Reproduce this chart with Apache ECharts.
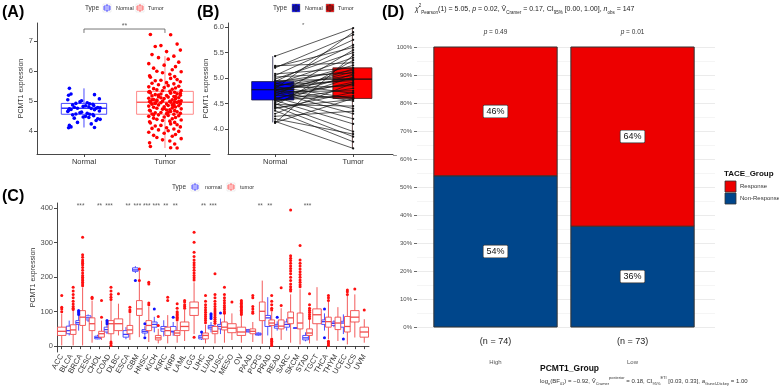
<!DOCTYPE html>
<html><head><meta charset="utf-8">
<script src="https://cdn.jsdelivr.net/npm/echarts@6/dist/echarts.min.js"></script>
<style>html,body{margin:0;padding:0;background:#fff}#c{width:779px;height:387px}</style>
</head><body><div id="c"></div>
<script>
const FONT = 'Liberation Sans, Arial, Helvetica, sans-serif';

// ---------- Panel A / B data ----------
const groupsAB = ['Normal', 'Tumor'];
const normalExpr = [5.43,5.24,5.22,5.2,5.08,5.05,5.02,4.98,4.95,4.93,4.92,4.9,4.88,4.86,4.85,4.83,4.82,4.8,4.79,4.78,4.77,4.77,4.76,4.75,4.73,4.72,4.7,4.68,4.66,4.64,4.62,4.6,4.58,4.57,4.56,4.55,4.52,4.5,4.48,4.46,4.44,4.42,4.4,4.36,4.3,4.25,4.2,4.15,4.13,4.12];
const tumorExpr = [7.22,7.21,6.9,6.85,6.82,6.7,6.65,6.55,6.5,6.45,6.4,6.3,6.25,6.2,6.15,6.1,6.05,6.0,5.98,5.95,5.9,5.85,5.82,5.8,5.76,5.72,5.7,5.68,5.65,5.62,5.6,5.58,5.55,5.52,5.5,5.48,5.46,5.44,5.42,5.4,5.38,5.36,5.35,5.33,5.32,5.3,5.28,5.27,5.25,5.24,5.22,5.2,5.19,5.18,5.16,5.15,5.14,5.12,5.1,5.09,5.08,5.06,5.05,5.04,5.02,5.01,5.0,4.99,4.98,4.97,4.97,4.96,4.95,4.94,4.92,4.91,4.9,4.89,4.88,4.86,4.85,4.84,4.82,4.81,4.8,4.78,4.77,4.75,4.74,4.72,4.7,4.69,4.68,4.66,4.65,4.63,4.62,4.6,4.59,4.58,4.57,4.55,4.53,4.52,4.5,4.48,4.46,4.44,4.42,4.4,4.38,4.36,4.34,4.32,4.3,4.28,4.25,4.22,4.2,4.18,4.15,4.12,4.1,4.08,4.05,4.02,4.0,3.97,3.94,3.9,3.87,3.84,3.8,3.76,3.72,3.68,3.62,3.58,3.5,3.46,3.45,5.12,4.93,5.27,4.71,5.05,4.84,5.21,4.63,4.99,5.31,4.76,5.16,4.55,4.88,5.02];
const jitterA = [-0.18,0.07,0.15,-0.05,-0.12,0.19,0.02,-0.16,0.11,-0.08,0.04,0.17,-0.2,-0.01,0.13,-0.14,0.09,-0.1,0.2,-0.03,0.06,-0.19,0.12];
const normalBoxA = [4.13, 4.57, 4.77, 4.93, 5.43];
const tumorBoxA = [3.45, 4.57, 4.97, 5.33, 6.5];
const sigA = '**';
const yTicksA = [4, 5, 6, 7];

const tumorPaired = [5.98,5.3,5.6,5.85,5.2,5.75,5.1,5.5,4.98,5.65,5.15,4.7,5.4,4.95,5.05,4.6,5.25,4.85,5.9,4.55,4.98,5.0,4.4,5.12,4.75,4.3,5.18,4.88,4.62,5.55,4.2,4.92,5.08,4.65,4.1,4.8,5.02,3.95,4.45,5.35,3.85,4.58,4.72,3.75,4.9,4.35,3.9,3.62,4.6,5.45];
const normalBoxB = [4.13, 4.57, 4.77, 4.93, 5.43];
const tumorBoxB = [3.62, 4.6, 4.98, 5.2, 5.98];
const sigB = '*';
const yTicksB = [4.0, 4.5, 5.0, 5.5, 6.0];

// ---------- Panel C data ----------
const cancerTypes = ['ACC','BLCA','BRCA','CESC','CHOL','COAD','DLBC','ESCA','GBM','HNSC','KICH','KIRC','KIRP','LAML','LGG','LIHC','LUAD','LUSC','MESO','OV','PAAD','PCPG','PRAD','READ','SARC','SKCM','STAD','TGCT','THCA','THYM','UCEC','UCS','UVM'];
const tumorStats = [[2,31,43,55,94],[2,34,47,62,103],[2,60,84,103,170],[10,45,65,82,132],[18,26,36,43,74],[15,36,65,74,132],[31,45,65,79,123],[18,36,47,60,95],[26,89,108,132,219],[12,45,60,74,115],[8,18,24,31,50],[8,31,45,55,90],[10,31,38,45,70],[15,45,57,70,105],[35,89,111,128,185],[8,21,31,38,62],[8,36,43,57,88],[10,47,55,70,102],[18,39,52,65,95],[10,31,41,55,90],[12,36,43,50,70],[7,74,101,128,190],[25,60,67,76,100],[18,50,58,76,110],[10,65,82,99,150],[5,50,67,96,165],[8,31,38,50,78],[16,65,91,108,171],[20,55,71,84,128],[15,48,67,84,113],[5,41,57,86,150],[25,70,84,103,150],[10,26,41,55,78]];
const normalStats = [null,[31,36,45,58,74],[45,63,68,74,90],[70,76,82,88,92],[20,21,25,29,33],[35,41,48,55,62],null,[20,26,34,45,55],[212,217,221,227,232],[30,38,43,48,58],[40,55,63,70,85],[28,43,50,57,75],[30,41,43,57,70],null,null,[18,21,26,31,38],[40,50,55,60,70],[35,50,57,63,80],null,null,[40,41,44,48,50],[30,32,35,38,40],[31,57,82,89,142],[45,52,58,63,72],[45,55,63,70,80],[53,53,53,53,53],[14,18,24,31,40],null,[45,63,71,76,95],[55,60,66,70,75],[35,55,67,72,92],null,null];
const tumorOutliers = [[147,113,108,100],[171,160,150,140,130,122,115,110,106],[316,265,258,250,245,240,235,228,220,212,205,200,195,190,185,180,175],[142,138],[132,84],[171,160,150,142,135,12,8,2],[152],[113,105,100],[224,190],[185,180,125,120],[86,60],[142,132],[123,110,100,96,92,88,84,80,76],[132,128,120,115,110],[330,301,272,260,250,242,235,228,220,212,205,198,192,26],[147,130,120,112,105,98,92,86,80,74,68],[210,150,140,130,122,115,108,102,96,90,84,78,72,66],[171,150,140,132,125,118,112,106,100,95],[128],[132,128,124,120,116,112,108,104,100,96,92],[147,140,115,108,100,95],[],[147,130,120,110,105,21,18,14,10,6,2],[169,118],[395,262,255,248,240,232,225,218,210,200,190,180,172,165,160],[292,250,240,232,224,216,208,200,192,185,178,172],[152,120,110,104,98,92,86,80],[],[147,140,132,14,10,6,2],[],[163,158,150],[166],[105]];
const normalOutliers = [[],[],[103,100,96,92],[],[],[74,70,65],[],[],[190],[65,24],[108],[],[84],[],[],[41],[94,90,85,80],[96],[],[],[],[],[],[84],[],[],[],[],[108,24],[],[21],[],[]];
const starsC = ['','','***','','**','***','','**','***','***','***','**','**','','','**','***','','','','','**','**','','','','***','','','','','',''];
const yTicksC = [0, 100, 200, 300, 400];

// ---------- Panel D data ----------
const peGroups = ['High', 'Low'];
const nCounts = [74, 73];
const responsePct = [46, 64];
const nonResponsePct = [54, 36];
const pLabelsD = ['0.49', '0.01'];

// ---------- helpers ----------
function boxRenderer(halfW, stroke, fill, medColor, lw) {
  return function (params, api) {
    const x = api.value(0);
    const c = [1,2,3,4,5].map(i => api.coord([x, api.value(i)]));
    const hw = api.size([halfW, 0])[0];
    const cx = c[0][0];
    return {type: 'group', children: [
      {type: 'line', shape: {x1: cx, y1: c[0][1], x2: cx, y2: c[1][1]}, style: {stroke: stroke, lineWidth: lw}},
      {type: 'line', shape: {x1: cx, y1: c[3][1], x2: cx, y2: c[4][1]}, style: {stroke: stroke, lineWidth: lw}},
      {type: 'rect', shape: {x: cx - hw, y: c[3][1], width: 2 * hw, height: c[1][1] - c[3][1]}, style: {fill: fill, stroke: stroke, lineWidth: lw}},
      {type: 'line', shape: {x1: cx - hw, y1: c[2][1], x2: cx + hw, y2: c[2][1]}, style: {stroke: medColor, lineWidth: lw * 1.5}}
    ]};
  };
}
function boxRendererC(side, stroke) {
  return function (params, api) {
    const ci = api.value(0);
    const paired = api.value(6);
    const bw = api.size([1, 0])[0];
    const off = paired ? side * bw * 0.21 : 0;
    const hw = paired ? bw * 0.3 : bw * 0.45;
    const c = [1,2,3,4,5].map(i => api.coord([ci, api.value(i)]));
    const cx = c[0][0] + off;
    const lw = 0.9;
    return {type: 'group', children: [
      {type: 'line', shape: {x1: cx, y1: c[0][1], x2: cx, y2: c[1][1]}, style: {stroke: stroke, lineWidth: lw}},
      {type: 'line', shape: {x1: cx, y1: c[3][1], x2: cx, y2: c[4][1]}, style: {stroke: stroke, lineWidth: lw}},
      {type: 'rect', shape: {x: cx - hw, y: c[3][1], width: 2 * hw, height: Math.max(c[1][1] - c[3][1], 0.5)}, style: {fill: '#fff', stroke: stroke, lineWidth: lw}},
      {type: 'line', shape: {x1: cx - hw, y1: c[2][1], x2: cx + hw, y2: c[2][1]}, style: {stroke: stroke, lineWidth: 1.3}}
    ]};
  };
}
function outlierRendererC(side, color) {
  return function (params, api) {
    const ci = api.value(0);
    const paired = api.value(2);
    const bw = api.size([1, 0])[0];
    const off = paired ? side * bw * 0.21 : 0;
    const p = api.coord([ci, api.value(1)]);
    return {type: 'circle', shape: {cx: p[0] + off, cy: p[1], r: 1.5}, style: {fill: color}};
  };
}
function legendGlyph(x, y, stroke, fill) {
  const open = fill === 'none';
  return {type: 'group', x: x, y: y, children: [
    {type: 'rect', shape: {x: 0, y: 0, width: 8, height: 8}, style: {fill: open ? '#fff' : fill, stroke: open ? '#ddd' : '#888', lineWidth: 0.5}},
    {type: 'line', shape: {x1: 4, y1: 0, x2: 4, y2: 8}, style: {stroke: open ? stroke : '#222', lineWidth: 0.8}},
    {type: 'rect', shape: {x: 1, y: 2, width: 6, height: 4}, style: {fill: open ? '#fff' : fill, stroke: open ? stroke : '#222', lineWidth: 0.8}},
    {type: 'line', shape: {x1: 1, y1: 4, x2: 7, y2: 4}, style: {stroke: open ? stroke : '#222', lineWidth: 0.8}}
  ]};
}
function txt(x, y, text, size, opts) {
  return {type: 'text', x: x, y: y, style: Object.assign({text: text, fontSize: size, fontFamily: FONT, fill: '#222', verticalAlign: 'middle'}, opts || {})};
}

const axisLineStyle = {show: true, lineStyle: {color: '#333', width: 0.9}};
const axisTickStyle = {show: true, length: 3, lineStyle: {color: '#333', width: 0.9}};
const labelStyle = {fontSize: 7.5, color: '#4d4d4d', fontFamily: FONT};

// ---------- build series data ----------
const pointsNormalA = normalExpr.map((v, i) => [1 + jitterA[(i * 7) % jitterA.length], v]);
const pointsTumorA = tumorExpr.map((v, i) => [2 + jitterA[i % jitterA.length], v]);
const pairsB = normalExpr.map((v, i) => [v, tumorPaired[i]]);
const tumorBoxDataC = tumorStats.map((s, i) => [i].concat(s, [normalStats[i] ? 1 : 0]));
const normalBoxDataC = [];
normalStats.forEach((s, i) => { if (s) normalBoxDataC.push([i].concat(s, [1])); });
const tumorOutC = [], normalOutC = [];
tumorOutliers.forEach((arr, i) => arr.forEach(v => tumorOutC.push([i, v, normalStats[i] ? 1 : 0])));
normalOutliers.forEach((arr, i) => arr.forEach(v => normalOutC.push([i, v, 1])));
const starsDataC = [];
starsC.forEach((s, i) => { if (s) starsDataC.push({value: [i, 407], label: {formatter: s}}); });
const nonRespData = peGroups.map((g, i) => [i + 1, 0, nonResponsePct[i] / 100, nonResponsePct[i]]);
const respData = peGroups.map((g, i) => [i + 1, nonResponsePct[i] / 100, 1, responsePct[i], i]);

function barRendererD(color, withP) {
  return function (params, api) {
    const x = api.value(0);
    const p0 = api.coord([x - 0.45, api.value(1)]);
    const p1 = api.coord([x + 0.45, api.value(2)]);
    const mid = api.coord([x, (api.value(1) + api.value(2)) / 2]);
    const ch = [
      {type: 'rect', shape: {x: p0[0], y: p1[1], width: p1[0] - p0[0], height: p0[1] - p1[1]}, style: {fill: color, stroke: '#333', lineWidth: 1}},
      {type: 'text', style: {text: api.value(3) + '%', x: mid[0], y: mid[1], align: 'center', verticalAlign: 'middle', fontSize: 9, fontFamily: FONT, fill: '#111', backgroundColor: '#fff', borderColor: '#333', borderWidth: 0.7, borderRadius: 1, padding: [2, 3, 1, 3]}}
    ];
    if (withP) {
      ch.push({type: 'text', style: {rich: {i: {fontStyle: 'italic', fontSize: 6.5, fontFamily: FONT, fill: '#333'}, t: {fontSize: 6.5, fontFamily: FONT, fill: '#333'}}, text: '{i|p}{t| = ' + pLabelsD[api.value(4)] + '}', x: mid[0], y: p1[1] - 15, align: 'center', verticalAlign: 'middle'}});
    }
    return {type: 'group', children: ch};
  };
}

const option = {
  animation: false,
  backgroundColor: '#fff',
  textStyle: {fontFamily: FONT},
  grid: [
    {left: 37, top: 23, width: 173, height: 131, outerBoundsMode: 'none'},
    {left: 228, top: 23, width: 165, height: 131, outerBoundsMode: 'none'},
    {left: 57, top: 203, width: 312, height: 149, outerBoundsMode: 'none'},
    {left: 417, top: 47, width: 298, height: 280, outerBoundsMode: 'none'}
  ],
  xAxis: [
    {gridIndex: 0, type: 'value', min: 0.42, max: 2.556, axisLine: axisLineStyle, axisTick: Object.assign({customValues: [1, 2]}, axisTickStyle), splitLine: {show: false},
      axisLabel: Object.assign({customValues: [1, 2], formatter: v => groupsAB[Math.round(v) - 1], margin: 4}, labelStyle, {color: '#333'})},
    {gridIndex: 1, type: 'value', min: 0.397, max: 2.51, axisLine: axisLineStyle, axisTick: Object.assign({customValues: [1, 2]}, axisTickStyle), splitLine: {show: false},
      axisLabel: Object.assign({customValues: [1, 2], formatter: v => groupsAB[Math.round(v) - 1], margin: 4}, labelStyle, {color: '#333'})},
    {gridIndex: 2, type: 'category', data: cancerTypes, axisLine: axisLineStyle, axisTick: Object.assign({alignWithLabel: true, interval: 0}, axisTickStyle), splitLine: {show: false},
      axisLabel: {interval: 0, rotate: 60, fontSize: 7.5, color: '#333', fontFamily: FONT, margin: 3}},
    {gridIndex: 3, type: 'value', min: 0.427, max: 2.602, axisLine: {show: false}, axisTick: {show: false}, splitLine: {show: false},
      axisLabel: {customValues: [1, 2], margin: 8, formatter: v => '{n|(n = ' + nCounts[Math.round(v) - 1] + ')}\n{g|' + peGroups[Math.round(v) - 1] + '}',
        rich: {n: {fontSize: 9, color: '#222', fontFamily: FONT, lineHeight: 13}, g: {fontSize: 6, color: '#555', fontFamily: FONT, lineHeight: 28}}}}
  ],
  yAxis: [
    {gridIndex: 0, type: 'value', min: 3.25, max: 7.6, axisLine: axisLineStyle, axisTick: Object.assign({customValues: yTicksA}, axisTickStyle), splitLine: {show: false},
      axisLabel: Object.assign({customValues: yTicksA, margin: 4}, labelStyle), name: 'PCMT1 expression', nameLocation: 'middle', nameGap: 12, nameTextStyle: {fontSize: 7, color: '#333', fontFamily: FONT}},
    {gridIndex: 1, type: 'value', min: 3.51, max: 6.08, axisLine: axisLineStyle, axisTick: Object.assign({customValues: yTicksB}, axisTickStyle), splitLine: {show: false},
      axisLabel: Object.assign({customValues: yTicksB, margin: 4, formatter: v => v.toFixed(1)}, labelStyle), name: 'PCMT1 expression', nameLocation: 'middle', nameGap: 18, nameTextStyle: {fontSize: 7, color: '#333', fontFamily: FONT}},
    {gridIndex: 2, type: 'value', min: -17, max: 415, axisLine: axisLineStyle, axisTick: Object.assign({customValues: yTicksC}, axisTickStyle), splitLine: {show: false},
      axisLabel: Object.assign({customValues: yTicksC, margin: 4}, labelStyle), name: 'PCMT1 expression', nameLocation: 'middle', nameGap: 20, nameTextStyle: {fontSize: 7, color: '#333', fontFamily: FONT}},
    {gridIndex: 3, type: 'value', min: 0, max: 1, interval: 0.1, axisLine: {show: false}, axisTick: {show: true, length: 3, lineStyle: {color: '#444', width: 0.8}},
      splitLine: {show: true, lineStyle: {color: '#ebebeb', width: 1}}, minorTick: {show: false, splitNumber: 2}, minorSplitLine: {show: true, lineStyle: {color: '#f2f2f2', width: 0.8}},
      axisLabel: {formatter: v => Math.round(v * 100) + '%', fontSize: 6, color: '#4d4d4d', fontFamily: FONT, margin: 5}}
  ],
  series: [
    // Panel A
    {type: 'custom', xAxisIndex: 0, yAxisIndex: 0, renderItem: boxRenderer(0.28, '#3535ff', 'none', '#3535ff', 0.9), data: [[1].concat(normalBoxA)], z: 2},
    {type: 'custom', xAxisIndex: 0, yAxisIndex: 0, renderItem: boxRenderer(0.35, '#ff7a7a', 'none', '#ff6060', 0.9), data: [[2].concat(tumorBoxA)], z: 2},
    {type: 'scatter', xAxisIndex: 0, yAxisIndex: 0, data: pointsNormalA, symbolSize: 3.6, itemStyle: {color: '#0000ff', opacity: 1}, z: 3},
    {type: 'scatter', xAxisIndex: 0, yAxisIndex: 0, data: pointsTumorA, symbolSize: 3.6, itemStyle: {color: '#ff0000', opacity: 1}, z: 3},
    {type: 'line', xAxisIndex: 0, yAxisIndex: 0, data: [[1, 7.27], [1, 7.4], [2, 7.4], [2, 7.27]], symbol: 'none', lineStyle: {color: '#555', width: 0.8}, z: 4},
    {type: 'scatter', xAxisIndex: 0, yAxisIndex: 0, data: [[1.5, 7.5]], symbolSize: 1, itemStyle: {color: 'transparent'},
      label: {show: true, position: 'inside', formatter: sigA, fontSize: 7, color: '#333', fontFamily: FONT}, z: 4},
    // Panel B
    {type: 'custom', xAxisIndex: 1, yAxisIndex: 1, renderItem: boxRenderer(0.27, '#1a1a40', '#0000ff', '#111', 0.8), data: [[0.97].concat(normalBoxB)], z: 2},
    {type: 'custom', xAxisIndex: 1, yAxisIndex: 1, renderItem: boxRenderer(0.25, '#401a1a', '#ff0000', '#111', 0.8), data: [[1.99].concat(tumorBoxB)], z: 2},
    {type: 'custom', xAxisIndex: 1, yAxisIndex: 1, z: 3, data: pairsB,
      renderItem: function (params, api) {
        const a = api.coord([1, api.value(0)]);
        const b = api.coord([2, api.value(1)]);
        return {type: 'group', children: [
          {type: 'line', shape: {x1: a[0], y1: a[1], x2: b[0], y2: b[1]}, style: {stroke: '#111', lineWidth: 0.7}},
          {type: 'circle', shape: {cx: a[0], cy: a[1], r: 1.1}, style: {fill: '#111'}},
          {type: 'circle', shape: {cx: b[0], cy: b[1], r: 1.1}, style: {fill: '#111'}}
        ]};
      }},
    {type: 'scatter', xAxisIndex: 1, yAxisIndex: 1, data: [[1.36, 6.04]], symbolSize: 1, itemStyle: {color: 'transparent'},
      label: {show: true, position: 'inside', formatter: sigB, fontSize: 6, color: '#333', fontFamily: FONT}, z: 4},
    // Panel C
    {type: 'custom', xAxisIndex: 2, yAxisIndex: 2, renderItem: boxRendererC(-1, '#3b3bff'), data: normalBoxDataC, z: 2},
    {type: 'custom', xAxisIndex: 2, yAxisIndex: 2, renderItem: boxRendererC(1, '#f24a4a'), data: tumorBoxDataC, z: 2},
    {type: 'custom', xAxisIndex: 2, yAxisIndex: 2, renderItem: outlierRendererC(-1, '#1010ff'), data: normalOutC, z: 3},
    {type: 'custom', xAxisIndex: 2, yAxisIndex: 2, renderItem: outlierRendererC(1, '#ff1010'), data: tumorOutC, z: 3},
    {type: 'scatter', xAxisIndex: 2, yAxisIndex: 2, data: starsDataC, symbolSize: 1, itemStyle: {color: 'transparent'},
      label: {show: true, position: 'inside', fontSize: 6.5, color: '#333', fontFamily: FONT}, z: 4},
    // Panel D
    {type: 'custom', xAxisIndex: 3, yAxisIndex: 3, renderItem: barRendererD('#00468B', false), data: nonRespData, z: 3},
    {type: 'custom', xAxisIndex: 3, yAxisIndex: 3, renderItem: barRendererD('#ED0000', true), data: respData, z: 3}
  ],
  graphic: [
    txt(2, 13, '(A)', 16, {fontWeight: 'bold', fill: '#000'}),
    txt(197, 13, '(B)', 16, {fontWeight: 'bold', fill: '#000'}),
    txt(2, 197, '(C)', 16, {fontWeight: 'bold', fill: '#000'}),
    txt(382, 13, '(D)', 16, {fontWeight: 'bold', fill: '#000'}),
    // legend A
    txt(85, 8, 'Type', 6.5, {fill: '#333'}),
    legendGlyph(103, 4, '#3535ff', 'none'),
    txt(116, 8, 'Normal', 5.5, {fill: '#333'}),
    legendGlyph(136, 4, '#ff5050', 'none'),
    txt(148, 8, 'Tumor', 5.5, {fill: '#333'}),
    // legend B
    txt(273, 8, 'Type', 6.5, {fill: '#333'}),
    legendGlyph(292, 4, '#000', '#0000ff'),
    txt(305, 8, 'Normal', 5.5, {fill: '#333'}),
    legendGlyph(326, 4, '#000', '#ff0000'),
    txt(338, 8, 'Tumor', 5.5, {fill: '#333'}),
    // legend C
    txt(172, 187, 'Type', 6.5, {fill: '#333'}),
    legendGlyph(191, 183, '#3535ff', 'none'),
    txt(205, 187, 'normal', 5.5, {fill: '#333'}),
    legendGlyph(227, 183, '#ff5050', 'none'),
    txt(240, 187, 'tumor', 5.5, {fill: '#333'}),
    // panel D texts
    {type: 'text', x: 415, y: 9, style: {verticalAlign: 'middle', fontFamily: FONT,
      rich: {t: {fontSize: 7, fill: '#222', fontFamily: FONT}, i: {fontSize: 7, fontStyle: 'italic', fill: '#222', fontFamily: FONT}, sb: {fontSize: 4.5, fill: '#222', fontFamily: FONT, verticalAlign: 'bottom', lineHeight: 12}, sp: {fontSize: 4.5, fill: '#222', fontFamily: FONT, verticalAlign: 'top', lineHeight: 12}},
      text: '{i|χ}{sp|2}{sb|Pearson}{t|(1) = 5.05, }{i|p}{t| = 0.02, }{t|V̂}{sb|Cramer}{t| = 0.17, CI}{sb|95%}{t| [0.00, 1.00], }{i|n}{sb|obs}{t| = 147}'}},
    txt(393, 155, '–', 7, {fill: '#333'}),
    txt(540, 369, 'PCMT1_Group', 8.5, {fontWeight: 'bold', fill: '#111'}),
    {type: 'text', x: 540, y: 381, style: {verticalAlign: 'middle', fontFamily: FONT,
      rich: {t: {fontSize: 6, fill: '#333', fontFamily: FONT}, i: {fontSize: 6, fontStyle: 'italic', fill: '#333', fontFamily: FONT}, sb: {fontSize: 4, fill: '#333', fontFamily: FONT, verticalAlign: 'bottom', lineHeight: 10}, sp: {fontSize: 4, fill: '#333', fontFamily: FONT, verticalAlign: 'top', lineHeight: 10}},
      text: '{t|log}{sb|e}{t|(BF}{sb|01}{t|) = −0.92, V̂}{sb|Cramer}{sp|posterior}{t| = 0.18, CI}{sb|95%}{sp|ETI}{t| [0.03, 0.33], }{i|a}{sb|Gunel-Dickey}{t| = 1.00}'}},
    // legend D
    txt(724, 174, 'TACE_Group', 8, {fontWeight: 'bold', fill: '#111'}),
    {type: 'rect', shape: {x: 725, y: 181, width: 11, height: 11}, style: {fill: '#ED0000', stroke: '#333', lineWidth: 0.8}},
    {type: 'rect', shape: {x: 725, y: 193, width: 11, height: 11}, style: {fill: '#00468B', stroke: '#333', lineWidth: 0.8}},
    txt(740, 186.5, 'Response', 6, {fill: '#333'}),
    txt(740, 198.5, 'Non-Response', 6, {fill: '#333'})
  ]
};

const chart = echarts.init(document.getElementById('c'), null, {renderer: 'canvas'});
chart.setOption(option);
</script>
</body></html>
